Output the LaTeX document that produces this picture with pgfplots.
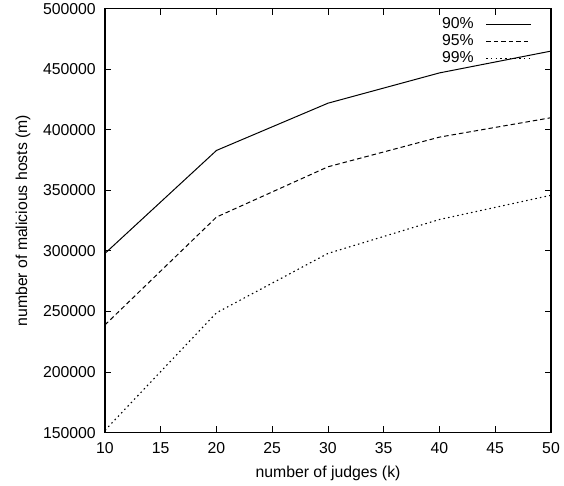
\documentclass[border=0pt]{standalone}
\usepackage{fontspec}
\setmainfont{Liberation Sans}
\usepackage{pgfplots}
\usepackage{pgfplotstable}
\pgfplotsset{compat=1.18}

% malicious hosts tolerated, by number of judges and confidence level
\pgfplotstableread{
k   p90     p95     p99
10  298000  239000  152000
20  383000  328000  249000
30  422000  369500  298000
40  447000  394000  326000
50  465000  410000  346000
}\judges

\newcommand{\lblfont}{\fontsize{15.8}{19}\selectfont}

\begin{document}
\begin{tikzpicture}
\path[use as bounding box] (-105pt,-53.3pt) rectangle (459pt,432.7pt);
\begin{axis}[
  at={(0,0)}, anchor=south west,
  width=446pt, height=424pt, scale only axis,
  xmin=10, xmax=50, ymin=150000, ymax=500000,
  xtick={10,15,20,25,30,35,40,45,50},
  ytick={150000,200000,250000,300000,350000,400000,450000,500000},
  scaled y ticks=false,
  yticklabel style={/pgf/number format/fixed, /pgf/number format/1000 sep={},
    inner sep=0pt, xshift=-9pt},
  xticklabel style={inner sep=0pt, yshift=-10pt},
  /pgf/number format/assume math mode=true,
  tick label style={font=\lblfont},
  label style={font=\lblfont},
  tick align=inside, major tick length=6.5pt,
  tick style={line width=1pt, black},
  axis line style={line width=1.2pt},
  xlabel={number of judges (k)},
  ylabel={number of malicious hosts (m)},
  xlabel style={at={(axis description cs:0.5,0)}, anchor=center, yshift=-41pt},
  ylabel style={at={(axis description cs:0,0.5)}, anchor=center, yshift=82pt},
  legend style={at={(rel axis cs:1,1)}, anchor=north east, xshift=-19pt, yshift=-9pt,
    draw=none, fill=none, inner sep=0pt, row sep=4.5pt, column sep=12pt,
    font=\lblfont, nodes={inner sep=0pt}},
  legend plot pos=right, legend cell align=right,
  legend image code/.code={\draw[#1] (0pt,0pt) -- (45pt,0pt);},
]
\addplot[black, line width=1pt] table[x=k, y=p90] {\judges};
\addplot[black, line width=1pt, dash pattern=on 4.5pt off 3pt] table[x=k, y=p95] {\judges};
\addplot[black, line width=1.1pt, dash pattern=on 1.5pt off 3.2pt] table[x=k, y=p99] {\judges};
\legend{90\%, 95\%, 99\%}
\end{axis}
\end{tikzpicture}
\end{document}
